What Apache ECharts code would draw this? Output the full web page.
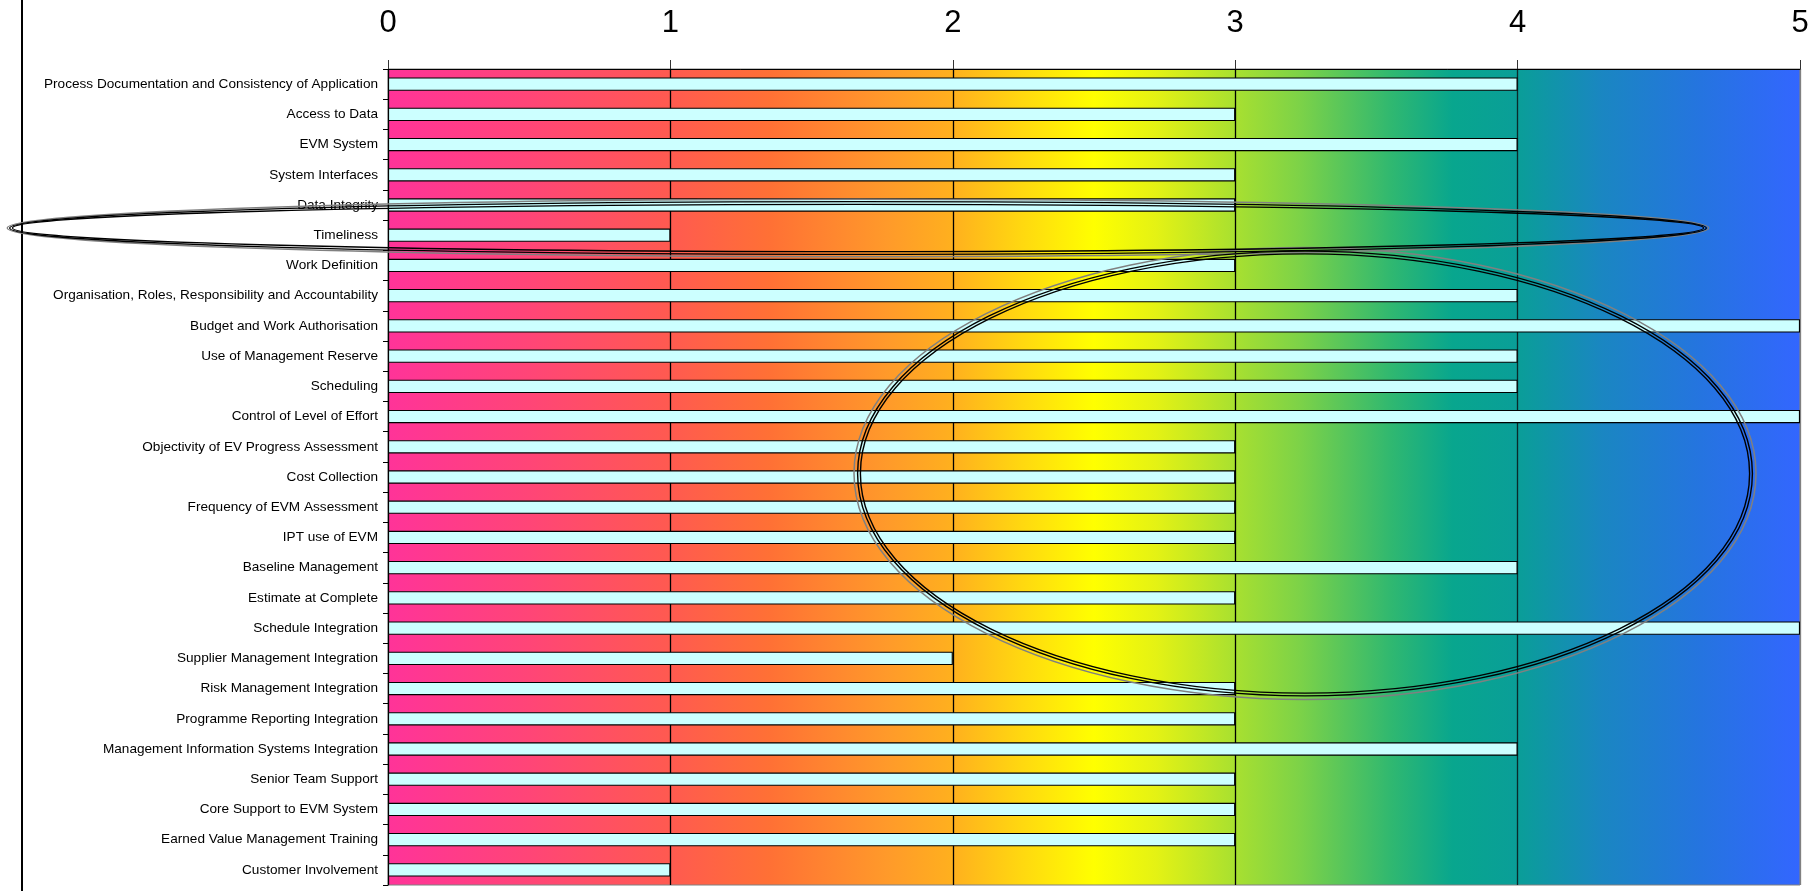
<!DOCTYPE html>
<html>
<head>
<meta charset="utf-8">
<script src="https://cdn.jsdelivr.net/npm/echarts@6/dist/echarts.min.js"></script>
<style>
html,body{margin:0;padding:0;background:#fff;}
#chart{width:1812px;height:891px;}
</style>
</head>
<body>
<div id="chart"></div>
<script>
const categories = [
  "Process Documentation and Consistency of Application",
  "Access to Data",
  "EVM System",
  "System Interfaces",
  "Data Integrity",
  "Timeliness",
  "Work Definition",
  "Organisation, Roles, Responsibility and Accountability",
  "Budget and Work Authorisation",
  "Use of Management Reserve",
  "Scheduling",
  "Control of Level of Effort",
  "Objectivity of EV Progress Assessment",
  "Cost Collection",
  "Frequency of EVM Assessment",
  "IPT use of EVM",
  "Baseline Management",
  "Estimate at Complete",
  "Schedule Integration",
  "Supplier Management Integration",
  "Risk Management Integration",
  "Programme Reporting Integration",
  "Management Information Systems Integration",
  "Senior Team Support",
  "Core Support to EVM System",
  "Earned Value Management Training",
  "Customer Involvement"
];
const scores = [4,3,4,3,3,1,3,4,5,4,4,5,3,3,3,3,4,3,5,2,3,3,4,3,3,3,1];
const axisMin = 0;
const axisMax = 5;
const axisStep = 1;

const chart = echarts.init(document.getElementById('chart'), null, {renderer:'canvas'});

const bgGradient = new echarts.graphic.LinearGradient(0, 0, 1, 0, [
  {offset: 0.00, color: '#ff3399'},
  {offset: 0.10, color: '#ff4577'},
  {offset: 0.20, color: '#ff5a50'},
  {offset: 0.27, color: '#ff7035'},
  {offset: 0.354, color: '#ff9a2a'},
  {offset: 0.40, color: '#ffb01e'},
  {offset: 0.449, color: '#ffd810'},
  {offset: 0.50, color: '#ffff00'},
  {offset: 0.544, color: '#e4f214'},
  {offset: 0.60, color: '#a8e030'},
  {offset: 0.646, color: '#7cd248'},
  {offset: 0.71, color: '#30b870'},
  {offset: 0.754, color: '#08a68e'},
  {offset: 0.80, color: '#0a9e98'},
  {offset: 0.86, color: '#1a86c2'},
  {offset: 0.93, color: '#2574e0'},
  {offset: 1.00, color: '#3366ff'}
]);

function ellipseSet(cx, cy, rx, ry, greyOff) {
  return [
    {type:'ellipse', z:100, silent:true, shape:{cx:cx, cy:cy, rx:rx+greyOff, ry:ry+greyOff},
     style:{fill:null, stroke:'#808080', lineWidth:1.5}},
    {type:'ellipse', z:101, silent:true, shape:{cx:cx, cy:cy, rx:rx+1.4, ry:ry+1.4},
     style:{fill:null, stroke:'#000', lineWidth:1.4}},
    {type:'ellipse', z:101, silent:true, shape:{cx:cx, cy:cy, rx:rx-1.4, ry:ry-1.4},
     style:{fill:null, stroke:'#000', lineWidth:1.4}}
  ];
}

const option = {
  animation: false,
  backgroundColor: '#ffffff',
  grid: {
    left: 388, right: 12, top: 69, bottom: 6,
    show: true,
    backgroundColor: bgGradient,
    borderColor: '#808080',
    borderWidth: 1
  },
  xAxis: {
    type: 'value',
    position: 'top',
    min: axisMin, max: axisMax, interval: axisStep,
    axisLine: {show: true, lineStyle: {color: '#000', width: 1}},
    axisTick: {show: true, length: 9, lineStyle: {color: '#333', width: 1}},
    axisLabel: {fontSize: 31, color: '#000', margin: 30, fontFamily: 'Liberation Sans, Arial, sans-serif'},
    splitLine: {show: true, lineStyle: {color: ['#000','#000','#000','#000','#0a2a2a','#808080'], width: 1.3}}
  },
  yAxis: {
    type: 'category',
    inverse: true,
    data: categories,
    axisLine: {show: true, lineStyle: {color: '#000', width: 1}},
    axisTick: {show: true, length: 5, lineStyle: {color: '#000'}},
    axisLabel: {interval: 0, fontSize: 13.6, color: '#000', margin: 10, fontFamily: 'Liberation Sans, Arial, sans-serif'},
    splitLine: {show: false}
  },
  series: [{
    type: 'bar',
    data: scores,
    barWidth: '44%',
    silent: true,
    itemStyle: {color: '#ccffff', borderColor: '#000', borderWidth: 1.1}
  }],
  graphic: [
    {type:'line', z:50, silent:true, shape:{x1:22, y1:0, x2:22, y2:891}, style:{stroke:'#000', lineWidth:2}}
  ].concat(ellipseSet(858, 228, 847, 25, 3.8)).concat(ellipseSet(1305, 473.5, 446, 221, 5))
};
chart.setOption(option);
</script>
</body>
</html>
